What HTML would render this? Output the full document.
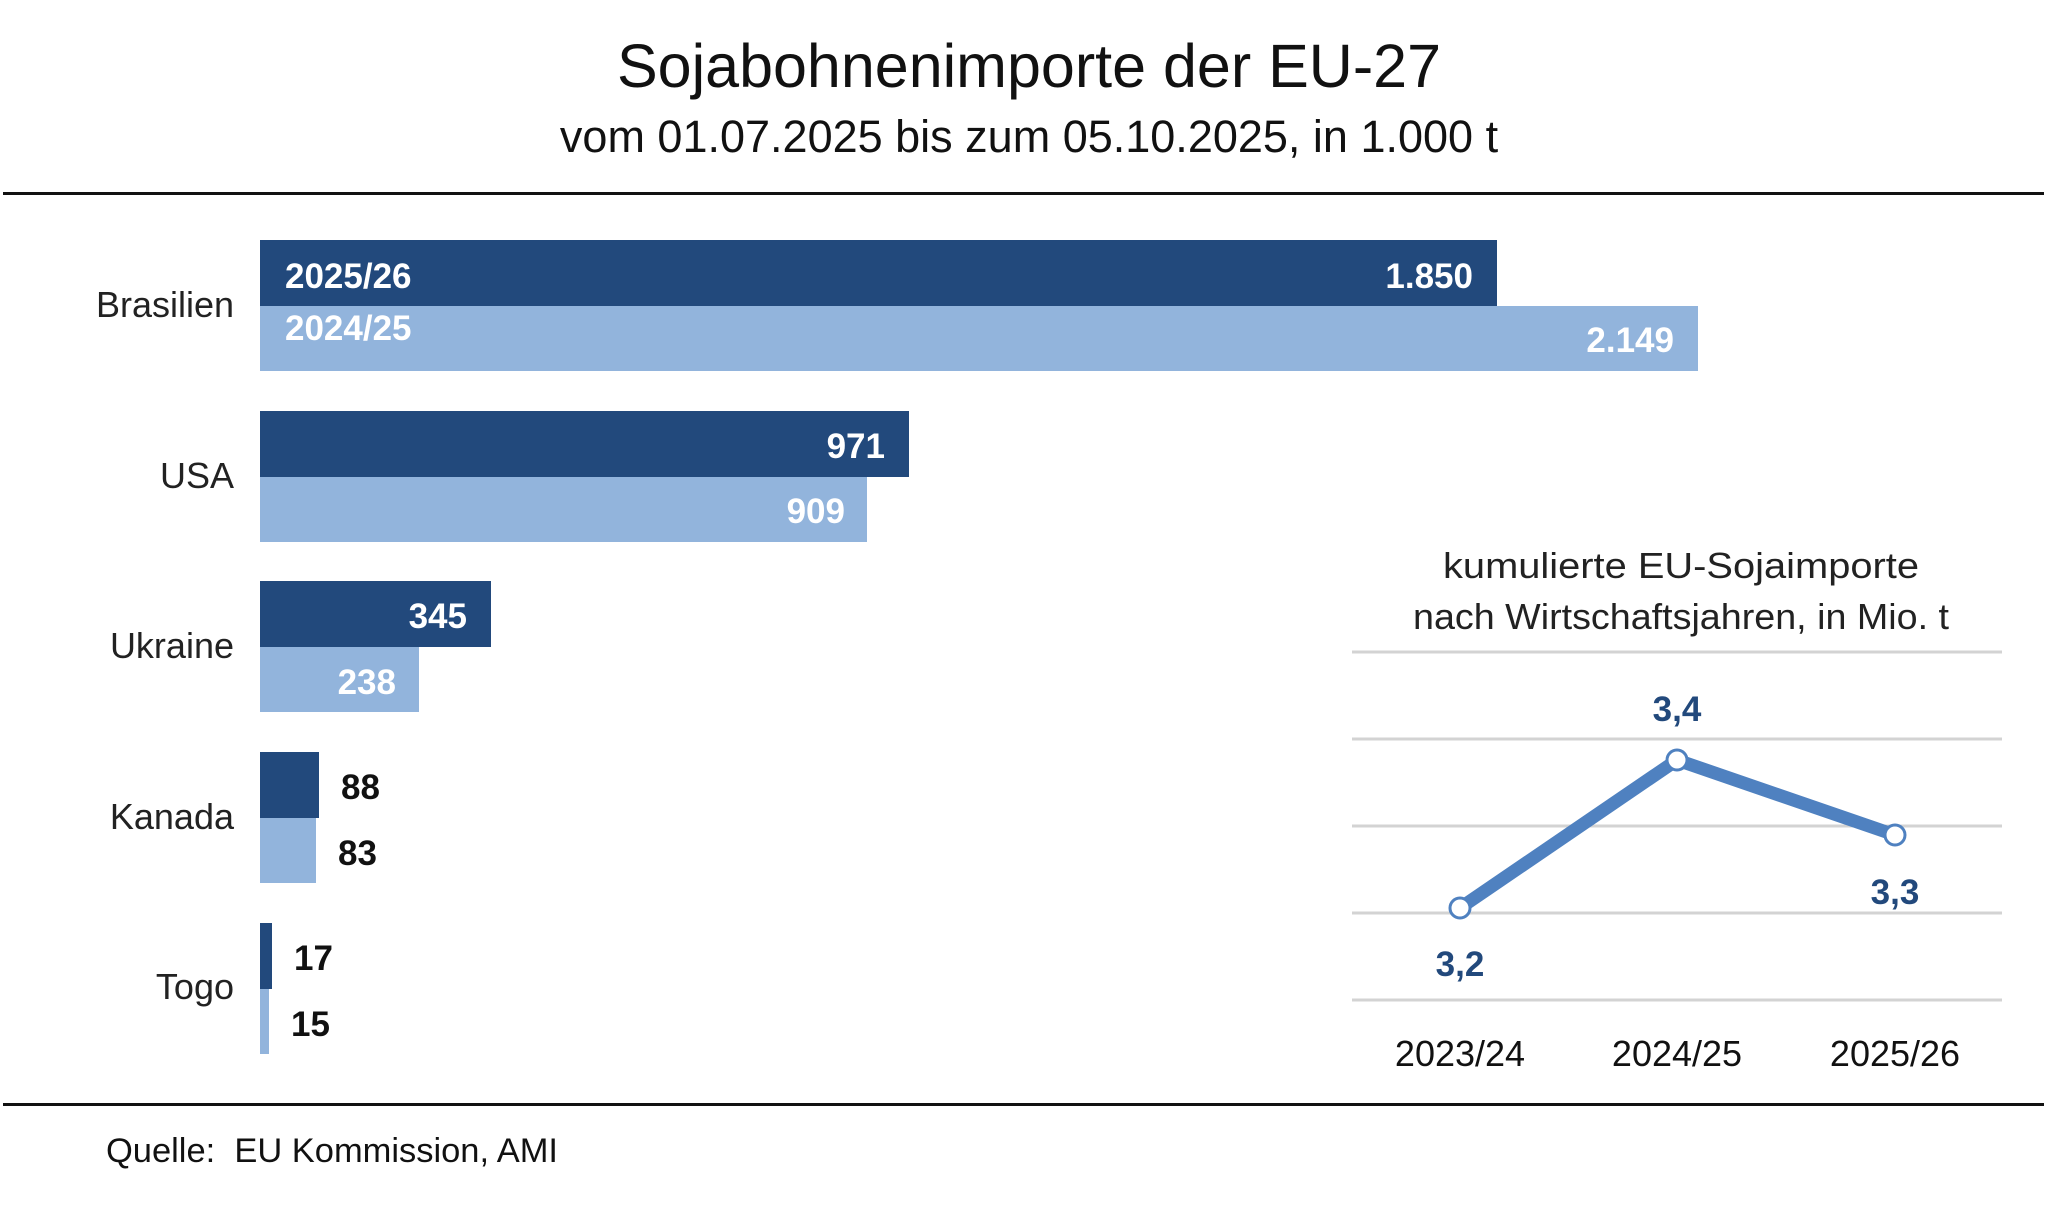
<!DOCTYPE html>
<html><head><meta charset="utf-8"><style>
html,body{margin:0;padding:0;background:#fff;}
svg{display:block;font-family:"Liberation Sans",sans-serif;}
</style></head><body>
<svg width="2048" height="1212" viewBox="0 0 2048 1212" xmlns="http://www.w3.org/2000/svg">
<text x="1029" y="87" font-size="61" text-anchor="middle" fill="#111">Sojabohnenimporte der EU-27</text>
<text x="1029" y="152" font-size="45" text-anchor="middle" fill="#111">vom 01.07.2025 bis zum 05.10.2025, in 1.000 t</text>
<rect x="3" y="192" width="2041" height="3" fill="#111"/>
<rect x="3" y="1103" width="2041" height="3" fill="#111"/>
<text x="106" y="1162" font-size="34" fill="#111" xml:space="preserve" textLength="452" lengthAdjust="spacingAndGlyphs">Quelle:  EU Kommission, AMI</text>

<g font-size="36" fill="#222" text-anchor="end">
<text x="234" y="317">Brasilien</text>
<text x="234" y="488">USA</text>
<text x="234" y="658">Ukraine</text>
<text x="234" y="829">Kanada</text>
<text x="234" y="999">Togo</text>
</g>

<g fill="#22497c">
<rect x="260" y="240" width="1237" height="66"/>
<rect x="260" y="411" width="649" height="66"/>
<rect x="260" y="581" width="231" height="66"/>
<rect x="260" y="752" width="59" height="66"/>
<rect x="260" y="923" width="12" height="66"/>
</g>
<g fill="#92b4dc">
<rect x="260" y="306" width="1438" height="65"/>
<rect x="260" y="477" width="607" height="65"/>
<rect x="260" y="647" width="159" height="65"/>
<rect x="260" y="818" width="56" height="65"/>
<rect x="260" y="989" width="9" height="65"/>
</g>
<g font-size="35" font-weight="bold" fill="#fff">
<text x="285" y="288">2025/26</text>
<text x="285" y="340">2024/25</text>
<g text-anchor="end">
<text x="1473" y="288">1.850</text>
<text x="1674" y="352">2.149</text>
<text x="885" y="458">971</text>
<text x="845" y="523">909</text>
<text x="467" y="628">345</text>
<text x="396" y="694">238</text>
</g>
</g>
<g font-size="35" font-weight="bold" fill="#111">
<text x="341" y="799">88</text>
<text x="338" y="865">83</text>
<text x="294" y="970">17</text>
<text x="291" y="1036">15</text>
</g>

<g font-size="36" fill="#222" text-anchor="middle">
<text x="1681" y="578" textLength="476" lengthAdjust="spacingAndGlyphs">kumulierte EU-Sojaimporte</text>
<text x="1681" y="629" textLength="536" lengthAdjust="spacingAndGlyphs">nach Wirtschaftsjahren, in Mio. t</text>
</g>
<g stroke="#d3d3d3" stroke-width="3">
<line x1="1352" y1="652" x2="2002" y2="652"/>
<line x1="1352" y1="739" x2="2002" y2="739"/>
<line x1="1352" y1="826" x2="2002" y2="826"/>
<line x1="1352" y1="913" x2="2002" y2="913"/>
<line x1="1352" y1="1000" x2="2002" y2="1000"/>
</g>
<polyline points="1460,908 1677,760 1895,835" fill="none" stroke="#4f81c0" stroke-width="13" stroke-linejoin="round"/>
<g fill="#fff" stroke="#4f81c0" stroke-width="3">
<circle cx="1460" cy="908" r="10"/>
<circle cx="1677" cy="760" r="10"/>
<circle cx="1895" cy="835" r="10"/>
</g>
<g font-size="35" font-weight="bold" fill="#22497c" text-anchor="middle">
<text x="1460" y="976">3,2</text>
<text x="1677" y="721">3,4</text>
<text x="1895" y="904">3,3</text>
</g>
<g font-size="36" fill="#111" text-anchor="middle">
<text x="1460" y="1066">2023/24</text>
<text x="1677" y="1066">2024/25</text>
<text x="1895" y="1066">2025/26</text>
</g>
</svg>
</body></html>
